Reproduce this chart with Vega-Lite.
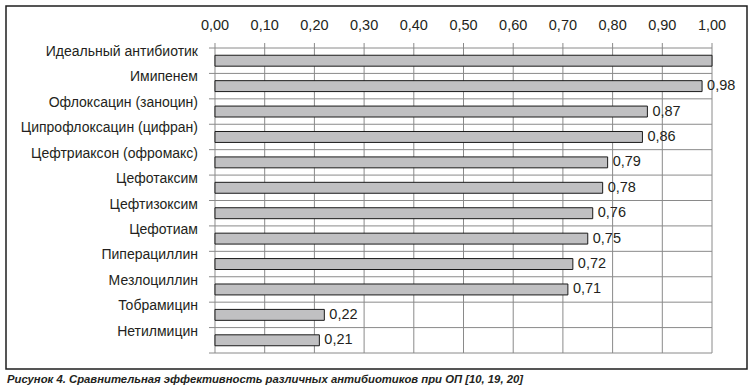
{
  "$schema": "https://vega.github.io/schema/vega-lite/v6.json",
  "width": 741,
  "height": 363,
  "autosize": {"type": "none"},
  "padding": {"left": 6, "top": 6, "right": 5, "bottom": 22},
  "background": "white",
  "config": {
    "locale": {"number": {"decimal": ",", "thousands": " ", "grouping": [3], "currency": ["", ""]}},
    "view": {"stroke": "#1e1e1e", "strokeWidth": 1.5},
    "font": "Liberation Sans"
  },
  "title": {
    "text": "Рисунок 4. Сравнительная эффективность различных антибиотиков при ОП [10, 19, 20]",
    "orient": "bottom",
    "anchor": "start",
    "frame": "group",
    "offset": 5,
    "dx": 1,
    "font": "Liberation Sans",
    "fontStyle": "italic",
    "fontWeight": "bold",
    "fontSize": 11.3,
    "color": "#231f20"
  },
  "datasets": {
    "main": [
      {"name": "Идеальный антибиотик", "value": 1.0},
      {"name": "Имипенем", "value": 0.98},
      {"name": "Офлоксацин (заноцин)", "value": 0.87},
      {"name": "Ципрофлоксацин (цифран)", "value": 0.86},
      {"name": "Цефтриаксон (офромакс)", "value": 0.79},
      {"name": "Цефотаксим", "value": 0.78},
      {"name": "Цефтизоксим", "value": 0.76},
      {"name": "Цефотиам", "value": 0.75},
      {"name": "Пиперациллин", "value": 0.72},
      {"name": "Мезлоциллин", "value": 0.71},
      {"name": "Тобрамицин", "value": 0.22},
      {"name": "Нетилмицин", "value": 0.21}
    ],
    "ticks": [
      {"t": 0}, {"t": 0.1}, {"t": 0.2}, {"t": 0.3}, {"t": 0.4}, {"t": 0.5},
      {"t": 0.6}, {"t": 0.7}, {"t": 0.8}, {"t": 0.9}, {"t": 1.0}
    ]
  },
  "layer": [
    {
      "data": {"name": "main"},
      "mark": {"type": "rule", "color": "#8a8a8a", "strokeWidth": 1, "xOffset": -6},
      "encoding": {
        "y": {
          "field": "name",
          "type": "nominal",
          "sort": null,
          "bandPosition": 0,
          "scale": {
            "domain": ["Идеальный антибиотик", "Имипенем", "Офлоксацин (заноцин)", "Ципрофлоксацин (цифран)", "Цефтриаксон (офромакс)", "Цефотаксим", "Цефтизоксим", "Цефотиам", "Пиперациллин", "Мезлоциллин", "Тобрамицин", "Нетилмицин"],
            "range": [42, 347],
            "paddingInner": 0,
            "paddingOuter": 0
          },
          "axis": null
        },
        "x": {
          "datum": 0,
          "type": "quantitative",
          "scale": {"domain": [-0.4205, 1.0704], "nice": false, "zero": false},
          "axis": null
        },
        "x2": {"datum": 1}
      }
    },
    {
      "data": {"name": "main"},
      "transform": [{"filter": "datum.name === 'Нетилмицин'"}],
      "mark": {"type": "rule", "color": "#8a8a8a", "strokeWidth": 1, "xOffset": -6},
      "encoding": {
        "y": {"field": "name", "type": "nominal", "bandPosition": 1, "axis": null},
        "x": {"datum": 0, "type": "quantitative", "axis": null},
        "x2": {"datum": 1}
      }
    },
    {
      "data": {"name": "ticks"},
      "mark": {"type": "rule", "color": "#8a8a8a", "strokeWidth": 1, "yOffset": -5},
      "encoding": {
        "x": {"field": "t", "type": "quantitative", "axis": null},
        "y": {"datum": "Идеальный антибиотик", "type": "nominal", "bandPosition": 0, "axis": null},
        "y2": {"datum": "Нетилмицин", "bandPosition": 1}
      }
    },
    {
      "data": {"name": "ticks"},
      "mark": {"type": "text", "align": "center", "baseline": "middle", "dy": -22, "fontSize": 14.5, "color": "#231f20"},
      "encoding": {
        "x": {"field": "t", "type": "quantitative", "axis": null},
        "y": {"datum": "Идеальный антибиотик", "type": "nominal", "bandPosition": 0, "axis": null},
        "text": {"field": "t", "type": "quantitative", "format": ".2f"}
      }
    },
    {
      "data": {"name": "main"},
      "mark": {"type": "text", "align": "right", "baseline": "middle", "dx": -17, "dy": 4, "fontSize": 14, "color": "#231f20"},
      "encoding": {
        "y": {"field": "name", "type": "nominal", "bandPosition": 0, "axis": null},
        "x": {"datum": 0, "type": "quantitative", "axis": null},
        "text": {"field": "name", "type": "nominal"}
      }
    },
    {
      "data": {"name": "main"},
      "mark": {"type": "bar", "fill": "#c0c0c2", "stroke": "#1a1a1a", "strokeWidth": 1, "height": {"band": 0.43}},
      "encoding": {
        "y": {"field": "name", "type": "nominal", "axis": null},
        "x": {"field": "value", "type": "quantitative", "axis": null}
      }
    },
    {
      "data": {"name": "main"},
      "transform": [{"filter": "datum.value < 1"}],
      "mark": {"type": "text", "align": "left", "baseline": "middle", "dx": 5, "fontSize": 14.5, "color": "#231f20"},
      "encoding": {
        "y": {"field": "name", "type": "nominal", "axis": null},
        "x": {"field": "value", "type": "quantitative", "axis": null},
        "text": {"field": "value", "type": "quantitative", "format": ".2f"}
      }
    }
  ]
}
